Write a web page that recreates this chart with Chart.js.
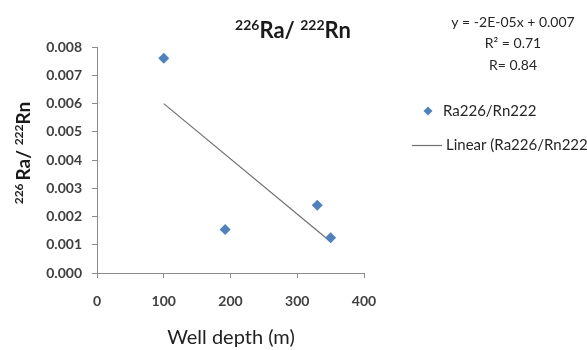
<!DOCTYPE html>
<html>
<head>
<meta charset="utf-8">
<script src="https://cdn.jsdelivr.net/npm/chart.js@4.4.1/dist/chart.umd.min.js"></script>
<style>
  body { margin: 0; background: #fff; }
  canvas { display: block; }
</style>
</head>
<body>
<canvas id="ratioChart" width="587" height="350"></canvas>
<script>
// Well depth (m) and 226Ra/222Rn ratio per well
const depths = [100, 192, 330, 350];
const ratios = [0.0076, 0.00154, 0.0024, 0.00125];
const xTicks = [0, 100, 200, 300, 400];
const yTicks = [0, 0.001, 0.002, 0.003, 0.004, 0.005, 0.006, 0.007, 0.008];
const equationLines = ['y = -2E-05x + 0.007', 'R² = 0.71', 'R= 0.84'];

// least squares fit, drawn between the smallest and largest depth
function linearFit(xs, ys) {
    const n = xs.length;
    const mx = xs.reduce((a, b) => a + b, 0) / n;
    const my = ys.reduce((a, b) => a + b, 0) / n;
    let sxy = 0, sxx = 0;
    for (let i = 0; i < n; i++) {
        sxy += (xs[i] - mx) * (ys[i] - my);
        sxx += (xs[i] - mx) * (xs[i] - mx);
    }
    const slope = sxy / sxx;
    return { slope, intercept: my - slope * mx };
}
const fit = linearFit(depths, ratios);
const xMin = Math.min(...depths), xMax = Math.max(...depths);
const trend = [xMin, xMax].map(x => ({ x, y: fit.slope * x + fit.intercept }));

const FONT = 'Lato, "Open Sans", sans-serif';
const BLUE = '#4f81bd';

// text with superscript pieces, e.g. 226Ra
function drawRich(ctx, parts, x, y, size, weight, align) {
    const supSize = Math.round(size * 0.62);
    let total = 0;
    parts.forEach(p => {
        ctx.font = weight + ' ' + (p.sup ? supSize : size) + 'px ' + FONT;
        p.w = ctx.measureText(p.t).width;
        total += p.w;
    });
    let cx = align === 'center' ? x - total / 2 : x;
    ctx.textAlign = 'left';
    ctx.textBaseline = 'alphabetic';
    parts.forEach(p => {
        ctx.font = weight + ' ' + (p.sup ? supSize : size) + 'px ' + FONT;
        ctx.fillText(p.t, cx, p.sup ? y - size * 0.38 : y);
        cx += p.w;
    });
}

const titleLabel = [
    { t: '226', sup: true }, { t: 'Ra/ ' }, { t: '222', sup: true }, { t: 'Rn' }
];
const axisLabel = [
    { t: '226 ', sup: true }, { t: 'Ra/ ' }, { t: '222', sup: true }, { t: 'Rn' }
];

const decorations = {
    id: 'decorations',
    afterDraw(chart) {
        const ctx = chart.ctx;
        ctx.save();
        ctx.fillStyle = '#1a1a1a';

        // title
        drawRich(ctx, titleLabel, 293, 38, 22, 'bold', 'center');

        // y axis title
        ctx.save();
        ctx.translate(30, 153);
        ctx.rotate(-Math.PI / 2);
        drawRich(ctx, axisLabel, 0, 0, 19, 'bold', 'center');
        ctx.restore();

        // x axis title
        ctx.fillStyle = '#222';
        ctx.font = '20px ' + FONT;
        ctx.textAlign = 'center';
        ctx.textBaseline = 'middle';
        ctx.fillText('Well depth (m)', 231, 338);

        // regression equation
        ctx.font = '14px ' + FONT;
        ctx.fillStyle = '#262626';
        equationLines.forEach((line, i) => ctx.fillText(line, 513, 22 + i * 21.5));

        // legend
        ctx.textAlign = 'left';
        ctx.font = '15px ' + FONT;
        ctx.fillStyle = BLUE;
        ctx.beginPath();
        ctx.moveTo(428, 106.5);
        ctx.lineTo(432.5, 111);
        ctx.lineTo(428, 115.5);
        ctx.lineTo(423.5, 111);
        ctx.closePath();
        ctx.fill();
        ctx.fillStyle = '#262626';
        ctx.fillText('Ra226/Rn222', 443, 111);

        ctx.strokeStyle = '#6e6e6e';
        ctx.lineWidth = 1.2;
        ctx.beginPath();
        ctx.moveTo(412, 145.5);
        ctx.lineTo(442, 145.5);
        ctx.stroke();
        ctx.fillText('Linear (Ra226/Rn222)', 446, 145);
        ctx.restore();
    }
};

new Chart(document.getElementById('ratioChart'), {
    type: 'scatter',
    data: {
        datasets: [
            {
                label: 'Ra226/Rn222',
                data: depths.map((x, i) => ({ x, y: ratios[i] })),
                pointStyle: 'rectRot',
                pointRadius: 5.5,
                pointHoverRadius: 5.5,
                backgroundColor: BLUE,
                borderColor: BLUE,
                borderWidth: 0
            },
            {
                label: 'Linear (Ra226/Rn222)',
                data: trend,
                showLine: true,
                pointRadius: 0,
                borderColor: '#6e6e6e',
                borderWidth: 1.2
            }
        ]
    },
    options: {
        responsive: false,
        animation: false,
        devicePixelRatio: 1,
        layout: { padding: { left: 0, top: 47, right: 223, bottom: 0 } },
        plugins: {
            legend: { display: false },
            title: { display: false },
            tooltip: { enabled: false }
        },
        scales: {
            x: {
                type: 'linear',
                min: xTicks[0],
                max: xTicks[xTicks.length - 1],
                afterBuildTicks: axis => { axis.ticks = xTicks.map(v => ({ value: v })); },
                afterFit: axis => { axis.height = 77; },
                border: { color: '#8c8c8c', width: 1 },
                grid: { drawOnChartArea: false, drawTicks: true, tickLength: 5, color: '#8c8c8c' },
                ticks: {
                    padding: 15,
                    color: '#404040',
                    font: { family: FONT, size: 14, weight: 'bold' }
                }
            },
            y: {
                type: 'linear',
                min: yTicks[0],
                max: yTicks[yTicks.length - 1],
                afterBuildTicks: axis => { axis.ticks = yTicks.map(v => ({ value: v })); },
                afterFit: axis => { axis.width = 97; },
                border: { color: '#8c8c8c', width: 1 },
                grid: { drawOnChartArea: false, drawTicks: true, tickLength: 5, color: '#8c8c8c' },
                ticks: {
                    padding: 10,
                    color: '#404040',
                    font: { family: FONT, size: 14, weight: 'bold' },
                    callback: v => v.toFixed(3)
                }
            }
        }
    },
    plugins: [decorations]
});
</script>
</body>
</html>
